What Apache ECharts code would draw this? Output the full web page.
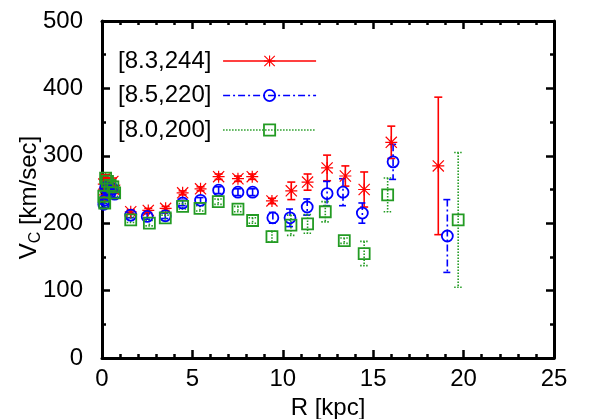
<!DOCTYPE html>
<html>
<head>
<meta charset="utf-8">
<script src="https://cdn.jsdelivr.net/npm/echarts@6/dist/echarts.min.js"></script>
<style>
html,body{margin:0;padding:0;background:#fff;}
#c{width:598px;height:419px;}
</style>
</head>
<body>
<div id="c"></div>
<script>
// ---- data ----
const seriesNames = ['[8.3,244]', '[8.5,220]', '[8.0,200]'];
const xTicks = [0, 5, 10, 15, 20, 25];
const yTicks = [0, 100, 200, 300, 400, 500];

const rRed = [0.1, 0.15, 0.2, 0.3, 0.45, 0.6, 0.7, 1.59, 2.56, 3.52, 4.46, 5.45, 6.45, 7.52, 8.31, 9.4, 10.47, 11.37, 12.45, 13.46, 14.5, 16.0, 18.6];
const vRed = [258, 242, 267, 262, 252, 262, 249, 217, 219, 222, 245, 251, 269, 266, 269, 233, 248, 261, 282, 270, 250, 320, 285];
const eRed = [5, 5, 5, 5, 5, 5, 5, 3, 3, 3, 3, 3, 4, 4, 4, 4, 13, 12, 19, 15, 26, 24, 102];

const rBlue = [0.1, 0.15, 0.2, 0.3, 0.45, 0.6, 0.7, 1.59, 2.5, 3.5, 4.46, 5.45, 6.45, 7.52, 8.33, 9.45, 10.4, 11.35, 12.45, 13.33, 14.4, 16.1, 19.1];
const vBlue = [228, 234, 253, 250, 246, 251, 243, 212, 210, 211, 230, 234, 249, 246, 246, 208, 208, 224, 244, 246, 215, 291, 181];
const eBlue = [5, 5, 5, 5, 5, 5, 5, 4, 4, 4, 4, 4, 5, 5, 5, 8, 13, 12, 18, 20, 15, 26, 54];

const rGreen = [0.1, 0.15, 0.2, 0.3, 0.45, 0.6, 0.7, 1.59, 2.62, 3.5, 4.46, 5.42, 6.43, 7.52, 8.33, 9.4, 10.45, 11.37, 12.35, 13.4, 14.5, 15.8, 19.7];
const vGreen = [240, 230, 267, 262, 256, 254, 245, 205, 200, 208, 225, 222, 232, 221, 204, 180, 197, 199, 217, 174, 155, 242, 205];
const eGreen = [5, 5, 5, 5, 5, 5, 5, 4, 4, 4, 4, 4, 4, 4, 4, 8, 15, 14, 15, 4, 18, 25, 100];

// ---- styles ----
const FONT = 'Liberation Sans, Arial, Helvetica, sans-serif';
const FS = 24;
const colors = ['#ff0000', '#0000ff', '#239b23'];
const dashes = ['solid', [7, 3, 2, 3], [1.5, 1.5]];
const starPath = 'path://M0,9L20,9L20,11L0,11Z M9,0L11,0L11,20L9,20Z M1.4,0L20,18.6L18.6,20L0,1.4Z M18.6,0L20,1.4L1.4,20L0,18.6Z';
const symbols = [starPath, 'circle', 'rect'];

const sets = [[rRed, vRed, eRed], [rBlue, vBlue, eBlue], [rGreen, vGreen, eGreen]];

const series = [];
const legendData = [];
sets.forEach(function (s, i) {
  const pts = s[0].map(function (r, k) { return [r, s[1][k]]; });
  const errs = s[0].map(function (r, k) { return [r, s[1][k], s[2][k]]; });
  const isStar = i === 0;
  const itemStyle = isStar
    ? { color: colors[i], borderWidth: 0, opacity: 1 }
    : { color: 'rgba(0,0,0,0)', borderColor: colors[i], borderWidth: 1.8, opacity: 1 };
  series.push({
    type: 'custom',
    name: seriesNames[i] + '_err',
    xAxisIndex: 0, yAxisIndex: 0,
    z: 2,
    silent: true,
    data: errs,
    renderItem: function (params, api) {
      const x = api.value(0), y = api.value(1), e = api.value(2);
      const top = api.coord([x, y + e]);
      const bot = api.coord([x, y - e]);
      const cw = 4;
      const st = { stroke: colors[i], lineWidth: 1.6, lineDash: dashes[i] === 'solid' ? null : dashes[i] };
      return {
        type: 'group',
        children: [
          { type: 'line', shape: { x1: top[0], y1: top[1], x2: bot[0], y2: bot[1] }, style: st },
          { type: 'line', shape: { x1: top[0] - cw, y1: top[1], x2: top[0] + cw, y2: top[1] }, style: st },
          { type: 'line', shape: { x1: bot[0] - cw, y1: bot[1], x2: bot[0] + cw, y2: bot[1] }, style: st }
        ]
      };
    }
  });
  series.push({
    type: 'line',
    name: seriesNames[i],
    xAxisIndex: 0, yAxisIndex: 0,
    z: 3,
    data: pts,
    symbol: symbols[i],
    symbolSize: isStar ? 12 : 11,
    showAllSymbol: true,
    lineStyle: { opacity: 0, width: 0 },
    itemStyle: itemStyle,
    emphasis: { disabled: true },
    animation: false
  });
  legendData.push({
    name: seriesNames[i],
    itemStyle: itemStyle,
    lineStyle: { color: colors[i], width: 1.6, type: dashes[i], opacity: 1 }
  });
});

const axisCommon = {
  axisLine: { show: true, onZero: false, lineStyle: { color: '#000', width: 3 } },
  axisTick: { show: true, inside: true, length: 8, lineStyle: { color: '#000', width: 2.5 } },
  minorTick: { show: true, length: 4, lineStyle: { color: '#000', width: 2.5 } },
  splitLine: { show: false },
  minorSplitLine: { show: false }
};

function xAx(pos, labels) {
  return Object.assign({}, axisCommon, {
    type: 'value', position: pos, min: xTicks[0], max: xTicks[xTicks.length - 1], interval: 5,
    minorTick: Object.assign({}, axisCommon.minorTick, { splitNumber: 5 }),
    axisLabel: { show: labels, margin: 9, fontSize: FS, fontFamily: FONT, color: '#000' },
    name: labels ? 'R [kpc]' : '', nameLocation: 'middle', nameGap: 32,
    nameTextStyle: { fontSize: FS, fontFamily: FONT, color: '#000' }
  });
}
function yAx(pos, labels) {
  return Object.assign({}, axisCommon, {
    type: 'value', position: pos, min: yTicks[0], max: yTicks[yTicks.length - 1], interval: 100,
    minorTick: Object.assign({}, axisCommon.minorTick, { splitNumber: 2 }),
    axisLabel: { show: labels, margin: 19, fontSize: FS, fontFamily: FONT, color: '#000' },
    name: labels ? '{a|V}{b|C}{a| [km/sec]}{p| }' : '', nameLocation: 'middle', nameGap: 58,
    nameMoveOverlap: false,
    nameTextStyle: {
      fontFamily: FONT, color: '#000',
      rich: {
        a: { fontSize: FS, fontFamily: FONT, color: '#000', lineHeight: 30 },
        b: { fontSize: 16, fontFamily: FONT, color: '#000', lineHeight: 16, verticalAlign: 'bottom' },
        p: { fontSize: FS, width: 16, lineHeight: 30 }
      }
    }
  });
}

const chart = echarts.init(document.getElementById('c'), null, { renderer: 'canvas' });
chart.setOption({
  animation: false,
  backgroundColor: '#fff',
  grid: { left: 102, right: 44, top: 21, bottom: 61, containLabel: false, outerBoundsMode: 'none' },
  xAxis: [xAx('bottom', true), xAx('top', false)],
  yAxis: [yAx('left', true), yAx('right', false)],
  legend: {
    orient: 'vertical',
    left: 113, top: 44,
    align: 'right',
    itemWidth: 93, itemHeight: 14,
    itemGap: 10.5,
    data: legendData,
    formatter: function (n) { return n + ' '; },
    textStyle: { fontSize: FS, fontFamily: FONT, color: '#000', lineHeight: 24 },
    selectedMode: false
  },
  series: series
});
</script>
</body>
</html>
